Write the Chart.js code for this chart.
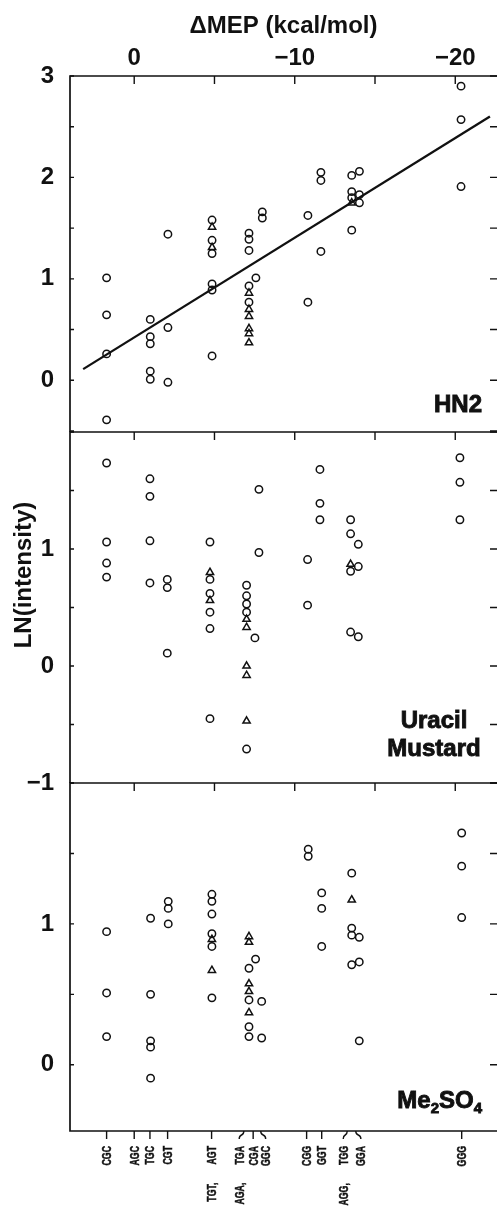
<!DOCTYPE html>
<html>
<head>
<meta charset="utf-8">
<title>LN(intensity) vs ΔMEP</title>
<script src="https://cdn.jsdelivr.net/npm/chart.js@4.4.1/dist/chart.umd.min.js"></script>
<style>
  html, body { margin: 0; padding: 0; background: #fff; overflow: hidden; }
  canvas { position: absolute; left: 0; }
</style>
</head>
<body>
<canvas id="hn2" width="497" height="440" style="top:0px"></canvas>
<canvas id="uracil" width="497" height="380" style="top:420px"></canvas>
<canvas id="me2so4" width="497" height="444" style="top:771px"></canvas>
<script>
const FONT = "'Liberation Sans', Arial, Helvetica, sans-serif"
const INK = '#111'

// top axis: ΔMEP (kcal/mol)
const mepTicks = [0, -10, -20]
const mepMarks = [0, -5, -10, -15, -20]

// sequences on the bottom axis, at their ΔMEP
const seqLabels = ['CGC', 'AGC', 'TGC', 'CGT', 'TGT, AGT', 'AGA, TGA', 'CGA', 'GGC', 'CGG', 'GGT', 'AGG, TGG', 'GGA', 'GGG']
const seqMEP = [1.72, 0, -0.98, -2.08, -4.82, -6.54, -7.41, -8.19, -10.74, -11.68, -13.02, -14.12, -20.4]
// where each mark meets the axis (bracketed ones are bent)
const seqMark = [1.72, 0, -0.98, -2.08, -4.82, -6.83, -7.41, -7.88, -10.74, -11.68, -13.27, -13.8, -20.4]

// HN2
const hn2CircleX = [1.72, 1.72, 1.72, 1.72, -1.0, -1.0, -1.0, -1.0, -1.0, -2.1, -2.1, -2.1,
  -4.85, -4.85, -4.85, -4.85, -4.85, -4.85, -7.15, -7.15, -7.15, -7.15, -7.15, -7.58, -7.98, -7.98,
  -10.82, -10.82, -11.63, -11.63, -11.63, -13.55, -13.55, -13.55, -13.55, -14.03, -14.03, -14.03,
  -20.36, -20.36, -20.36]
const hn2CircleY = [1.01, 0.645, 0.26, -0.39, 0.60, 0.43, 0.36, 0.09, 0.01, 1.44, 0.52, -0.02,
  1.58, 1.38, 1.25, 0.95, 0.89, 0.24, 1.45, 1.39, 1.28, 0.93, 0.77, 1.01, 1.66, 1.60,
  1.625, 0.77, 2.05, 1.97, 1.27, 2.02, 1.86, 1.80, 1.48, 2.06, 1.83, 1.75,
  2.90, 2.57, 1.91]
const hn2TriX = [-4.85, -4.85, -7.15, -7.15, -7.15, -7.15, -7.15, -7.15, -13.55]
const hn2TriY = [1.51, 1.31, 0.86, 0.70, 0.63, 0.51, 0.46, 0.37, 1.75]
const hn2FitX = [3.18, -22.16]
const hn2FitY = [0.11, 2.60]

// Uracil Mustard
const umCircleX = [1.72, 1.72, 1.72, 1.72, -0.98, -0.98, -0.98, -0.98, -2.06, -2.06, -2.06,
  -4.72, -4.72, -4.72, -4.72, -4.72, -4.72, -7.0, -7.0, -7.0, -7.0, -7.0, -7.52, -7.77, -7.77,
  -10.8, -10.8, -11.57, -11.57, -11.57, -13.48, -13.48, -13.48, -13.48, -13.96, -13.96, -13.96,
  -20.29, -20.29, -20.29]
const umCircleY = [1.735, 1.06, 0.88, 0.76, 1.60, 1.45, 1.07, 0.71, 0.74, 0.67, 0.11,
  1.06, 0.74, 0.62, 0.46, 0.32, -0.45, 0.69, 0.60, 0.53, 0.46, -0.71, 0.24, 1.51, 0.97,
  0.91, 0.52, 1.68, 1.39, 1.25, 1.25, 1.13, 0.81, 0.29, 1.04, 0.85, 0.25,
  1.78, 1.57, 1.25]
const umTriX = [-4.72, -4.72, -7.0, -7.0, -7.0, -7.0, -7.0, -13.48]
const umTriY = [0.80, 0.56, 0.40, 0.33, 0.0, -0.08, -0.47, 0.87]

// Me2SO4
const dmsCircleX = [1.72, 1.72, 1.72, -1.02, -1.02, -1.02, -1.02, -1.02, -2.12, -2.12, -2.12,
  -4.84, -4.84, -4.84, -4.84, -4.84, -4.84, -7.15, -7.15, -7.15, -7.15, -7.56, -7.94, -7.94,
  -10.84, -10.84, -11.68, -11.68, -11.68, -13.55, -13.55, -13.55, -13.55, -14.02, -14.02, -14.02,
  -20.4, -20.4, -20.4]
const dmsCircleY = [0.945, 0.51, 0.20, 1.04, 0.50, 0.17, 0.125, -0.095, 1.16, 1.11, 1.0,
  1.21, 1.16, 1.07, 0.93, 0.84, 0.475, 0.685, 0.46, 0.27, 0.20, 0.75, 0.45, 0.19,
  1.53, 1.48, 1.22, 1.11, 0.84, 1.36, 0.97, 0.92, 0.71, 0.905, 0.73, 0.17,
  1.645, 1.41, 1.045]
const dmsTriX = [-4.84, -4.84, -7.15, -7.15, -7.15, -7.15, -7.15, -13.55]
const dmsTriY = [0.89, 0.67, 0.91, 0.87, 0.575, 0.52, 0.37, 1.17]

const minus = v => v < 0 ? '\u2212' + Math.abs(v) : String(v)
const points = (xs, ys) => xs.map((x, i) => ({ x, y: ys[i] }))
const ticksAt = values => scale => { scale.ticks = values.map(value => ({ value })) }
const bigFont = { family: FONT, size: 24, weight: 'bold' }

// condensed, rotated sequence labels under the bottom axis
function drawSeqLabels(ctx, x, a) {
  const size = 12.5
  ctx.font = 'bold ' + size + 'px ' + FONT
  ctx.textAlign = 'right'
  ctx.textBaseline = 'alphabetic'
  ctx.lineWidth = 0.5
  seqLabels.forEach((label, i) => {
    const parts = label.split(', ')
    ctx.save()
    ctx.translate(x.getPixelForValue(seqMEP[i]), a.bottom + 15)
    ctx.rotate(-Math.PI / 2)
    ctx.scale(0.7, 1)
    const last = parts[parts.length - 1]
    ctx.fillText(last, 0, size * 0.36)
    ctx.strokeText(last, 0, size * 0.36)
    if (parts.length > 1) {
      const w = ctx.measureText(last).width
      ctx.fillText(parts[0] + ',', -(w + 26), size * 0.36)
      ctx.strokeText(parts[0] + ',', -(w + 26), size * 0.36)
    }
    ctx.restore()
  })
}

// frame, inward ticks and panel texts
const frame = {
  id: 'frame',
  afterDraw(chart, args, opts) {
    const { ctx, chartArea: a, scales: { x, y } } = chart
    ctx.save()
    ctx.strokeStyle = INK
    ctx.lineWidth = 1.7
    ctx.beginPath()
    ctx.moveTo(a.right, a.top)
    ctx.lineTo(a.left, a.top)
    ctx.lineTo(a.left, a.bottom)
    if (opts.bottom) ctx.lineTo(a.right, a.bottom)
    ctx.stroke()

    ctx.lineWidth = 1.4
    ctx.beginPath()
    mepMarks.forEach(v => {
      const px = x.getPixelForValue(v)
      ctx.moveTo(px, a.top)
      ctx.lineTo(px, a.top + 8)
    })
    for (let v = Math.ceil(y.min * 2) / 2; v <= y.max; v += 0.5) {
      const py = y.getPixelForValue(v)
      ctx.moveTo(a.left, py)
      ctx.lineTo(a.left + 4, py)
      ctx.moveTo(a.right - 7, py)
      ctx.lineTo(a.right, py)
    }
    if (opts.bottom) {
      seqMEP.forEach((v, i) => {
        const lx = x.getPixelForValue(v)
        const mx = x.getPixelForValue(seqMark[i])
        ctx.moveTo(mx, a.bottom)
        if (Math.abs(lx - mx) < 1) ctx.lineTo(lx, a.bottom + 8)
        else ctx.bezierCurveTo(mx, a.bottom + 6, lx, a.bottom + 2, lx, a.bottom + 8)
      })
    }
    ctx.stroke()

    ctx.fillStyle = INK
    if (opts.bottom) drawSeqLabels(ctx, x, a)

    ctx.strokeStyle = INK
    ctx.lineWidth = 0.9
    ctx.textBaseline = 'alphabetic'
    ;(opts.labels || []).forEach(l => {
      let w = 0
      l.parts.forEach(p => {
        ctx.font = 'bold ' + (p.sub ? 15 : 24) + 'px ' + FONT
        w += ctx.measureText(p.t).width
      })
      let px = l.align === 'center' ? l.x - w / 2 : l.x - w
      ctx.textAlign = 'left'
      l.parts.forEach(p => {
        ctx.font = 'bold ' + (p.sub ? 15 : 24) + 'px ' + FONT
        const py = l.y + (p.sub ? 5 : 0)
        ctx.fillText(p.t, px, py)
        ctx.strokeText(p.t, px, py)
        px += ctx.measureText(p.t).width
      })
    })
    if (opts.yTitle) {
      ctx.translate(opts.yTitle.x, opts.yTitle.y)
      ctx.rotate(-Math.PI / 2)
      ctx.font = 'bold 24px ' + FONT
      ctx.textAlign = 'center'
      ctx.textBaseline = 'middle'
      ctx.fillText(opts.yTitle.text, 0, 0)
    }
    ctx.restore()
  }
}

function makePanel(id, o) {
  const datasets = [
    { data: points(o.cx, o.cy), pointStyle: 'circle', pointRadius: 3.7, borderWidth: 1.5,
      borderColor: INK, backgroundColor: 'rgba(0,0,0,0)' },
    { data: points(o.tx, o.ty), pointStyle: 'triangle', pointRadius: 4.2, borderWidth: 1.5,
      borderColor: INK, backgroundColor: 'rgba(0,0,0,0)' }
  ]
  if (o.fitX) {
    datasets.push({ data: points(o.fitX, o.fitY), showLine: true, pointRadius: 0,
      borderColor: INK, borderWidth: 2.3 })
  }
  return new Chart(document.getElementById(id), {
    type: 'scatter',
    data: { datasets },
    options: {
      responsive: false,
      animation: false,
      devicePixelRatio: 1,
      layout: { padding: o.padding, autoPadding: false },
      plugins: { legend: { display: false }, tooltip: { enabled: false }, frame: o.frame },
      scales: {
        x: Object.assign({ type: 'linear', reverse: true, min: -22.6, max: 4.0,
          grid: { display: false }, border: { display: false } }, o.x),
        y: {
          type: 'linear', min: o.yMin, max: o.yMax,
          afterBuildTicks: ticksAt(o.yTicks),
          afterFit: s => { s.width = 70; s.paddingTop = 0; s.paddingBottom = 0 },
          grid: { display: false }, border: { display: false },
          ticks: { callback: minus, font: bigFont, color: INK, padding: 8 }
        }
      }
    },
    plugins: [frame]
  })
}

makePanel('hn2', {
  cx: hn2CircleX, cy: hn2CircleY, tx: hn2TriX, ty: hn2TriY, fitX: hn2FitX, fitY: hn2FitY,
  yMin: -0.51, yMax: 3, yTicks: [0, 1, 2, 3],
  padding: { top: 0, bottom: 8, left: 0, right: 0 },
  x: {
    position: 'top',
    afterBuildTicks: ticksAt(mepTicks),
    afterFit: s => { s.height = 76; s.paddingLeft = 0; s.paddingRight = 0 },
    ticks: { callback: minus, font: bigFont, color: INK, padding: -5, maxRotation: 0 },
    title: { display: true, text: 'ΔMEP (kcal/mol)', font: bigFont, color: INK, padding: { top: 12, bottom: 0 } }
  },
  frame: { labels: [{ parts: [{ t: 'HN2' }], x: 482, y: 412, align: 'right' }] }
})

makePanel('uracil', {
  cx: umCircleX, cy: umCircleY, tx: umTriX, ty: umTriY,
  yMin: -1, yMax: 2, yTicks: [-1, 0, 1],
  padding: { top: 12, bottom: 17, left: 0, right: 0 },
  x: { display: false },
  frame: {
    labels: [
      { parts: [{ t: 'Uracil' }], x: 434, y: 308, align: 'center' },
      { parts: [{ t: 'Mustard' }], x: 434, y: 336, align: 'center' }
    ],
    yTitle: { text: 'LN(intensity)', x: 24, y: 155 }
  }
})

makePanel('me2so4', {
  cx: dmsCircleX, cy: dmsCircleY, tx: dmsTriX, ty: dmsTriY,
  yMin: -0.47, yMax: 2, yTicks: [0, 1],
  padding: { top: 12, bottom: 0, left: 0, right: 0 },
  x: {
    position: 'bottom',
    afterBuildTicks: ticksAt(seqMEP),
    afterFit: s => { s.height = 84; s.paddingLeft = 0; s.paddingRight = 0 },
    ticks: { display: false }
  },
  frame: {
    bottom: true,
    labels: [{ parts: [{ t: 'Me' }, { t: '2', sub: true }, { t: 'SO' }, { t: '4', sub: true }], x: 482, y: 337, align: 'right' }]
  }
})
</script>
</body>
</html>
